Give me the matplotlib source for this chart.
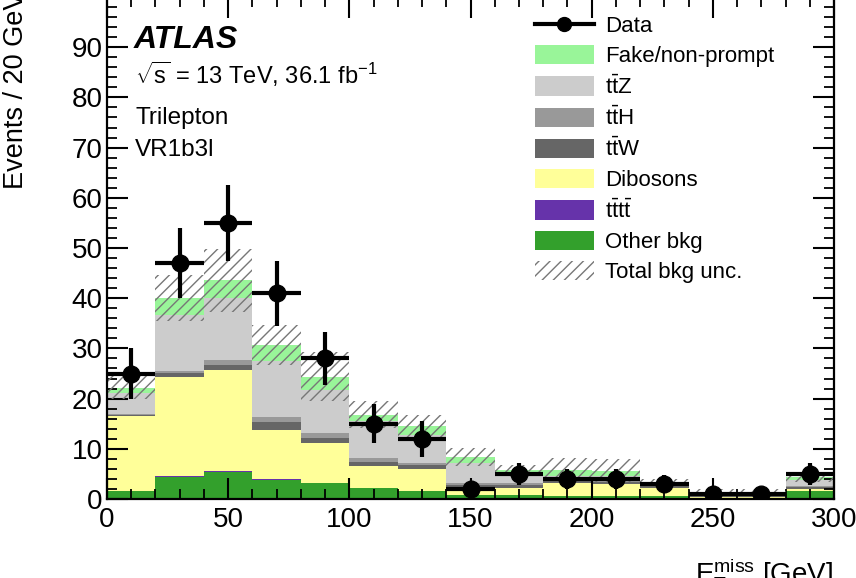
import numpy as np
import matplotlib
matplotlib.use("Agg")
import matplotlib.pyplot as plt
from matplotlib.ticker import MultipleLocator
from matplotlib.patches import Patch
from matplotlib.lines import Line2D

plt.rcParams['font.family'] = ['Liberation Sans', 'DejaVu Sans']
plt.rcParams['mathtext.fontset'] = 'custom'
plt.rcParams['mathtext.rm'] = 'Liberation Sans'
plt.rcParams['mathtext.it'] = 'Liberation Sans:italic'
plt.rcParams['mathtext.bf'] = 'Liberation Sans:bold'
plt.rcParams['hatch.linewidth'] = 1.0

# bin edges in GeV (20 GeV bins)
edges = [0, 20, 40, 60, 80, 100, 120, 140, 160, 180, 200, 220, 240, 260, 280, 300]

# stacked backgrounds, bottom to top
other = [1.5, 4.4, 5.4, 3.8, 3.1, 2.1, 1.5, 0.8, 0.8, 0.5, 0.5, 0.5, 0.2, 0.2, 1.5]
tttt = [0.05, 0.1, 0.1, 0.1, 0.1, 0.05, 0.05, 0.05, 0.05, 0.05, 0.05, 0.02, 0.02, 0.02, 0.05]
dibosons = [14.9, 19.9, 20.1, 9.8, 7.9, 4.5, 4.5, 0.7, 1.3, 2.6, 2.5, 1.6, 0.2, 0.2, 0.4]
ttw = [0.3, 0.7, 1.1, 1.7, 1.0, 0.8, 0.8, 1.2, 0.6, 0.4, 0.4, 0.4, 0.3, 0.3, 0.4]
tth = [0.2, 0.3, 1.0, 0.9, 1.0, 0.7, 0.3, 0.5, 0.4, 0.3, 0.3, 0.2, 0.2, 0.2, 0.3]
ttz = [4.2, 11.3, 12.3, 11.1, 8.6, 7.3, 5.6, 4.0, 1.7, 0.75, 0.8, 0.4, 0.3, 0.3, 1.2]
fake = [1.0, 3.3, 3.6, 3.3, 2.7, 1.3, 1.7, 1.2, 1.0, 1.2, 1.1, 0.2, 0.1, 0.1, 0.6]
bkg_unc = [2.3, 4.6, 6.3, 4.0, 4.9, 2.7, 2.2, 1.8, 0.9, 2.3, 2.3, 0.7, 0.7, 0.7, 1.0]

data = [25, 47, 55, 41, 28, 15, 12, 2, 5, 4, 4, 3, 1, 1, 5]
data_err = [5.0, 7.0, 7.5, 6.5, 5.3, 3.9, 3.6, 1.4, 2.2, 2.0, 2.0, 1.7, 1.0, 1.0, 2.2]

stack = [
    ("Other bkg", other, '#33a02c'),
    (r"$\mathrm{t\bar{t}t\bar{t}}$", tttt, '#6633aa'),
    ("Dibosons", dibosons, '#ffff99'),
    (r"$\mathrm{t\bar{t}W}$", ttw, '#666666'),
    (r"$\mathrm{t\bar{t}H}$", tth, '#999999'),
    (r"$\mathrm{t\bar{t}Z}$", ttz, '#cccccc'),
    ("Fake/non-prompt", fake, '#99f599'),
]

W, H = 856, 578
fig = plt.figure(figsize=(W / 100, H / 100), dpi=100)
ax = fig.add_axes([107 / W, (H - 499) / H, (834 - 107) / W, (499 + 3) / H])

left = np.array(edges[:-1], dtype=float)
width = np.diff(edges)
centers = left + width / 2

bottom = np.zeros(len(left))
for name, vals, col in stack:
    ax.bar(left, vals, width=width, bottom=bottom, align='edge', color=col,
           linewidth=0, zorder=1)
    bottom = bottom + np.array(vals)

total = bottom
unc = np.array(bkg_unc)
ax.bar(left, 2 * unc, width=width, bottom=total - unc, align='edge', fill=False,
       hatch='///', edgecolor='#777777', linewidth=0, zorder=2)

ax.errorbar(centers, data, yerr=data_err, xerr=width / 2, fmt='o', color='black',
            ms=12, elinewidth=3, capsize=0, zorder=5)

ax.set_xlim(0, 300)
ax.set_ylim(0, 100)
ax.set_yticks(np.arange(0, 100, 10))
ax.xaxis.set_major_locator(MultipleLocator(50))
ax.xaxis.set_minor_locator(MultipleLocator(10))
ax.yaxis.set_minor_locator(MultipleLocator(2))
ax.tick_params(which='both', direction='in', top=True, right=True, labelsize=20)
ax.tick_params(which='major', length=15, width=1.5)
ax.tick_params(which='minor', length=7, width=1.3)
ax.tick_params(axis='x', pad=6)
ax.tick_params(axis='y', pad=3)
for s in ax.spines.values():
    s.set_linewidth(1.6)

# labels, placed the way the cropped picture shows them
fig.text(16 / W, (H - 189) / H, 'Events / 20 GeV', rotation=90, ha='center',
         va='bottom', fontsize=19.5)
fig.text(833 / W, (H - 583) / H, r'$\mathrm{E}_{\mathrm{T}}^{\mathrm{miss}}$ [GeV]',
         ha='right', va='baseline', fontsize=20)

fig.text(134 / W, (H - 48) / H, 'ATLAS', fontsize=23, fontweight='bold',
         fontstyle='italic')
fig.text(135 / W, (H - 84) / H, r'$\sqrt{\mathrm{s}}$ = 13 TeV, 36.1 fb$^{-1}$',
         fontsize=17)
fig.text(135 / W, (H - 124) / H, 'Trilepton', fontsize=17.5)
fig.text(135 / W, (H - 156) / H, 'VR1b3l', fontsize=17.5)

handles = [Line2D([], [], color='black', marker='o', lw=3, ms=10)]
labels = ['Data']
for name, vals, col in stack[::-1]:
    handles.append(Patch(facecolor=col, linewidth=0))
    labels.append(name)
handles.append(Patch(facecolor='none', hatch='///', edgecolor='#777777', linewidth=0))
labels.append('Total bkg unc.')

leg = fig.legend(handles, labels, loc='upper left',
                 bbox_to_anchor=(535 / W, (H - 15) / H), frameon=False,
                 fontsize=16, handlelength=2.65, handleheight=0.95,
                 handletextpad=0.5, labelspacing=0.36, borderpad=0,
                 borderaxespad=0)

fig.savefig('out.png', dpi=100)
